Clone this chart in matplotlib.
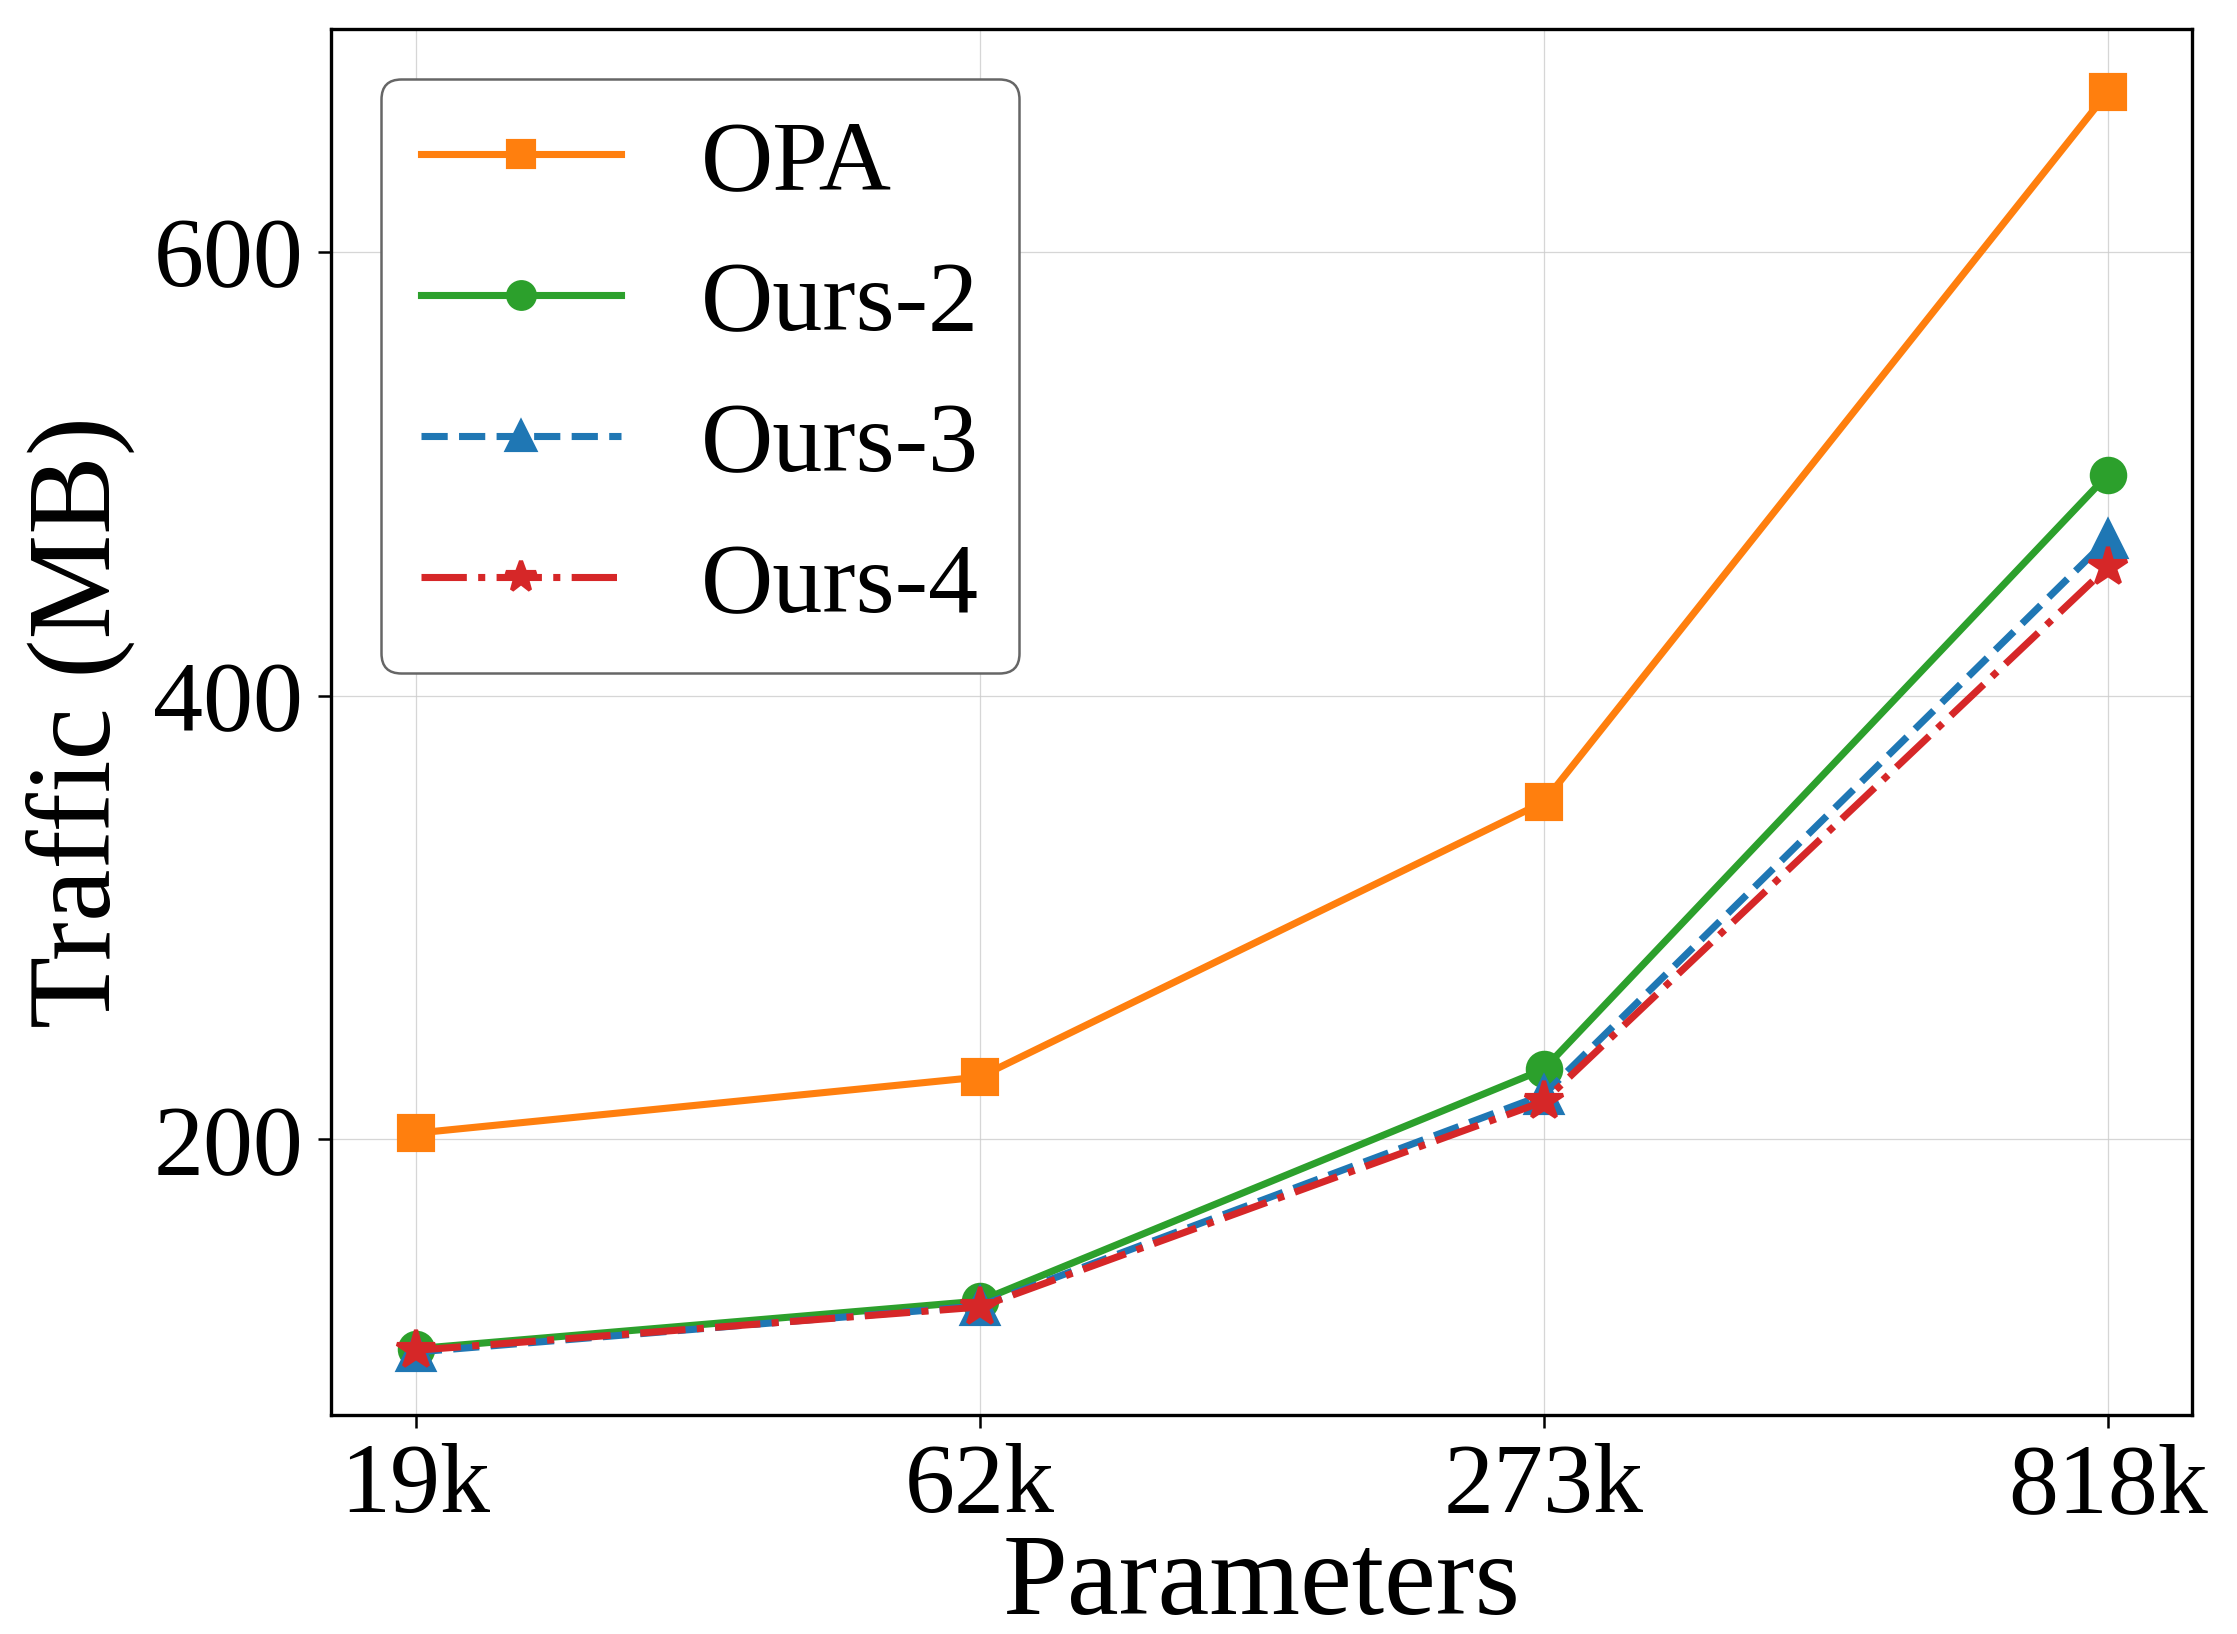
import matplotlib
matplotlib.use("Agg")
import matplotlib.pyplot as plt

plt.rcParams['font.family'] = ['Liberation Serif', 'DejaVu Serif']

categories = ["19k", "62k", "273k", "818k"]
opa = [202.7, 228.0, 352.0, 672.0]
ours2 = [105.5, 127.0, 231.5, 499.5]
ours3 = [104.0, 124.8, 220.0, 470.5]
ours4 = [104.8, 124.3, 217.0, 458.0]

series = [
    ("OPA", opa, "#ff7f0e", "-", "s", 8.0),
    ("Ours-2", ours2, "#2ca02c", "-", "o", 8.0),
    ("Ours-3", ours3, "#1f77b4", "--", "^", 8.5),
    ("Ours-4", ours4, "#d62728", "-.", "*", 9.5),
]

fig = plt.figure(figsize=(2237/300, 1634/300), dpi=300)
ax = fig.add_axes([0.148, 0.134, 0.832, 0.848])

x = list(range(len(categories)))
for name, vals, color, ls, mk, ms in series:
    ax.plot(x, vals, linestyle=ls, marker=mk, color=color, label=name,
            linewidth=1.7, markersize=ms, zorder=3)

ax.set_xticks(x)
ax.set_xticklabels(categories)
ax.set_yticks([200, 400, 600])
ax.tick_params(axis='both', labelsize=24, length=3.2, width=0.6)
ax.set_xlabel("Parameters", fontsize=28, labelpad=0)
ax.set_ylabel("Traffic (MB)", fontsize=28.3, labelpad=4.5)
ax.grid(True, color="#cccccc", linewidth=0.3, alpha=0.8, zorder=0)
for s in ax.spines.values():
    s.set_linewidth(0.8)

leg = ax.legend(loc="upper left", fontsize=24, markerscale=0.8,
                fancybox=True, framealpha=1.0)
leg.get_frame().set_edgecolor("#666666")
leg.get_frame().set_linewidth(0.6)

fig.savefig("out.png", dpi=300)
